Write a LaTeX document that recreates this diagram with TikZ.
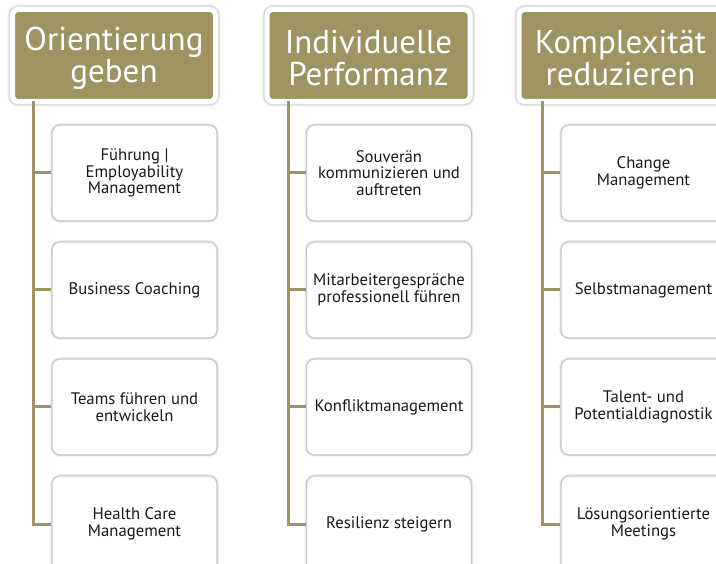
\documentclass[tikz,border=0pt]{standalone}
\usepackage{fontspec}
\setmainfont{PT Sans}
\definecolor{olive}{RGB}{159,147,97}
\definecolor{txt}{RGB}{25,25,25}
\tikzset{
  x=1pt, y=-1pt,
  head/.style={rectangle, rounded corners=6pt, fill=olive, draw=white, line width=5pt,
    minimum width=203pt, minimum height=92pt, inner sep=0pt,
    preaction={draw=black!7, line width=10pt},
    preaction={draw=black!14, line width=7.5pt}},
  headtext/.style={inner sep=0pt, align=center, text=white,
    font=\fontsize{33}{32}\selectfont},
  item/.style={rectangle, rounded corners=8pt, fill=white, draw=black!22, line width=1.2pt,
    minimum width=165pt, minimum height=96pt, inner sep=2pt, align=center,
    text=txt, font=\fontsize{16.7}{16.5}\selectfont,
    preaction={draw=black!8, line width=3.5pt}},
  conn/.style={draw=olive, line width=3pt}
}
\begin{document}
\begin{tikzpicture}
\useasboundingbox (0,0) rectangle (716,564);
\clip (0,0) rectangle (716,564);
\fill[white] (0,0) rectangle (716,564);
% column 1
\node[head] (h1) at (114,55.5) {};
\node[headtext] (t1) at ([yshift=-2.5pt]h1.center) {Orientierung\\geben};
\node[item] (b11) at (134.5,173) {Führung |\\Employability\\Management};
\node[item] (b12) at (134.5,290) {Business Coaching};
\node[item] (b13) at (134.5,407) {Teams führen und\\entwickeln};
\node[item] (b14) at (134.5,524) {Health Care\\Management};
\coordinate (s1) at (33,101);
% column 2
\node[head] (h2) at (368.5,55.5) {};
\node[headtext] (t2) at ([yshift=-2.5pt]h2.center) {Individuelle\\Performanz};
\node[item] (b21) at (389,173) {Souverän\\kommunizieren und\\auftreten};
\node[item] (b22) at (389,290) {Mitarbeitergespräche\\professionell führen};
\node[item] (b23) at (389,407) {Konfliktmanagement};
\node[item] (b24) at (389,524) {Resilienz steigern};
\coordinate (s2) at (288,101);
% column 3
\node[head] (h3) at (620.5,55.5) {};
\node[headtext] (t3) at ([yshift=-2.5pt]h3.center) {Komplexität\\reduzieren};
\node[item] (b31) at (643.5,173) {Change\\Management};
\node[item] (b32) at (643.5,290) {Selbstmanagement};
\node[item] (b33) at (643.5,407) {Talent- und\\Potentialdiagnostik};
\node[item] (b34) at (643.5,524) {Lösungsorientierte\\Meetings};
\coordinate (s3) at (542,101);
% connectors
\foreach \c in {1,2,3}{
  \draw[conn] (s\c) |- (b\c4.west);
  \draw[conn] (s\c |- b\c1.west) -- (b\c1.west);
  \draw[conn] (s\c |- b\c2.west) -- (b\c2.west);
  \draw[conn] (s\c |- b\c3.west) -- (b\c3.west);
}
\end{tikzpicture}
\end{document}
